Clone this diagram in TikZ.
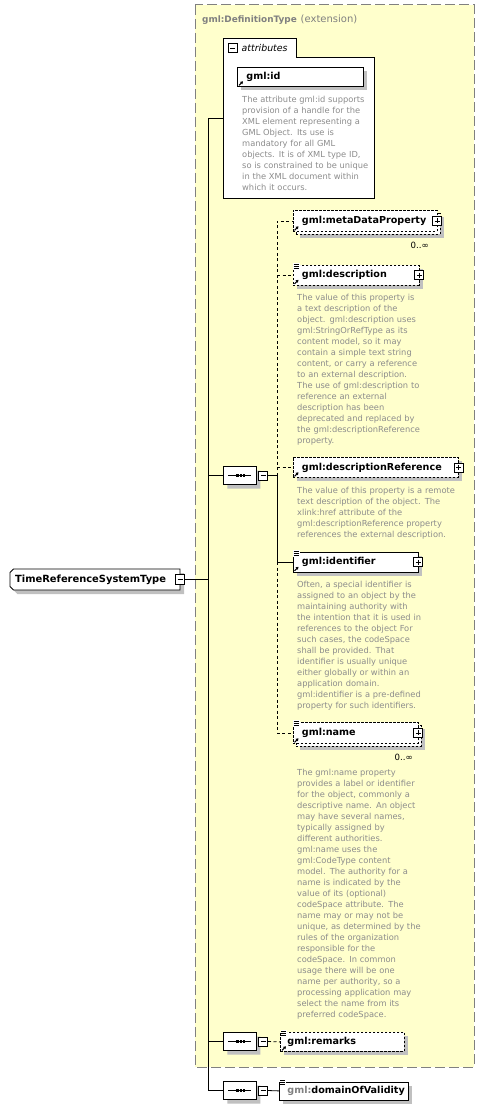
\documentclass[tikz,border=0pt]{standalone}
\usepackage{fontspec}
\setmainfont{DejaVu Sans}
\usetikzlibrary{shapes.misc,shadows,arrows.meta}
\definecolor{bgyellow}{HTML}{FFFFCC}
\definecolor{framegray}{HTML}{808080}
\definecolor{descgray}{HTML}{8C8C8C}
\definecolor{shadowgray}{HTML}{C0C0C0}
\tikzset{
  shad/.style={drop shadow={shadow xshift=4pt,shadow yshift=-4pt,fill=shadowgray,opacity=1}},
  dashbox/.style={dash pattern=on 2.5pt off 1.5pt},
  box/.style={rectangle,draw=black,line width=0.8pt,fill=white,inner xsep=9pt,inner ysep=0pt,
    align=left,font=\fontsize{9.6}{11}\selectfont\bfseries,anchor=north west},
  elem/.style={box,shad},
  optelem/.style={box,shad,dashbox},
  optfront/.style={box,dashbox},
  optback/.style={rectangle,draw=black,line width=0.8pt,fill=white,dashbox,inner sep=0pt,anchor=north west,shad},
  rootshape/.style={draw=black,line width=0.8pt,fill=white,shad},
  roottext/.style={anchor=west,inner sep=0pt,font=\fontsize{9.9}{11}\selectfont\bfseries},
  seqbox/.style={chamfered rectangle,chamfered rectangle xsep=4pt,draw=black,line width=0.8pt,fill=white,
    minimum width=33pt,minimum height=18pt,inner sep=0pt,anchor=west,shad,
    path picture={
      \draw[black,line width=0.9pt] ([xshift=5pt]path picture bounding box.west) -- ([xshift=-5pt]path picture bounding box.east);
      \foreach \dx in {-2.6pt,0.8pt,4.2pt}{\fill[black] ([xshift=\dx]path picture bounding box.center) +(-1.2pt,-1.2pt) rectangle +(1.2pt,1.2pt);}
    }},
  pm/.style={rectangle,draw=black,line width=0.7pt,fill=white,minimum width=9pt,minimum height=9pt,inner sep=0pt},
  plusbox/.style={pm,path picture={
      \draw[black,line width=0.7pt] ([xshift=2pt]path picture bounding box.west) -- ([xshift=-2pt]path picture bounding box.east)
        ([yshift=-2pt]path picture bounding box.north) -- ([yshift=2pt]path picture bounding box.south);}},
  minusbox/.style={pm,path picture={
      \draw[black,line width=0.7pt] ([xshift=2pt]path picture bounding box.west) -- ([xshift=-2pt]path picture bounding box.east);}},
  desc/.style={anchor=north west,inner sep=0pt,text=descgray,font=\fontsize{8.3}{11}\selectfont,align=left,text width=220pt},
  mult/.style={inner sep=0pt,font=\fontsize{8.6}{10}\selectfont,text=black},
  conn/.style={draw=black,line width=0.8pt},
  optconn/.style={conn,dash pattern=on 3pt off 2.5pt},
  refarrow/.style={line width=1.1pt,-{Triangle[length=2.6pt,width=3.2pt]}},
}
\newcommand\refmark[1]{\draw[refarrow] ([shift={(2pt,1.5pt)}]#1.south west) -- ++(4pt,4pt);}
\newcommand\docmark[1]{%
  \fill[white] ([shift={(0.6pt,2pt)}]#1.north west) rectangle ++(6.4pt,-6.5pt);
  \foreach \dy in {1pt,-1pt,-3pt}{\draw[line width=0.7pt] ([shift={(1.2pt,\dy)}]#1.north west) -- ++(5pt,0pt);}}
\begin{document}
\begin{tikzpicture}[x=1pt,y=-1pt]
\useasboundingbox (0,0) rectangle (485,1110);
\fill[white] (0,0) rectangle (485,1110);
% extension frame
\draw[fill=bgyellow,draw=framegray,line width=1pt,dash pattern=on 10pt off 4pt] (195,5) rectangle (474,1067);
\node[anchor=base west,inner sep=0pt,text=framegray,font=\fontsize{8.9}{10}\selectfont\bfseries] (title) at (202,22.5) {gml:DefinitionType};
\node[anchor=base west,inner sep=0pt,text=framegray,font=\fontsize{10}{11}\selectfont] (ext) at ([xshift=3.5pt]title.base east) {(extension)};
% attributes group
\draw[fill=white,line width=0.8pt] (223,198) -- (223,38) -- (296,38) -- (296,57) -- (374,57) -- (374,198) -- cycle;
\node[minusbox] (attrm) at (232.5,48) {};
\node[anchor=west,inner sep=0pt,font=\fontsize{9.4}{10}\selectfont\itshape] (attrlabel) at (241.5,48) {attributes};
\coordinate (attrin) at (223,118);
\node[elem,text width=108pt,minimum height=19pt] (gmlid) at (237,67) {gml:id};
\refmark{gmlid}
\node[desc] (iddesc) at (242,95.7) {The attribute gml:id supports\\provision of a handle for the\\XML element representing a\\GML Object. Its use is\\mandatory for all GML\\objects. It is of XML type ID,\\so is constrained to be unique\\in the XML document within\\which it occurs.};
% trunk
\coordinate (j0) at (208.5,118);
\coordinate (j1) at (208.5,475.5);
\coordinate (jr) at (208.5,579.5);
\coordinate (j2) at (208.5,1041.5);
\coordinate (j3) at (208.5,1090.5);
\draw[conn] (attrin) -- (j0) -- (j3);
% root
\draw[rootshape] (13.5,569) -- (180,569) -- (180,590) -- (13.5,590) -- (10,586.5) -- (10,572.5) -- cycle;
\node[roottext] (root) at (15,579.5) {TimeReferenceSystemType};
\node[minusbox,minimum height=10pt] (rootm) at (180,579.5) {};
\draw[conn] (rootm.east) -- (jr);
% sequence 1
\node[seqbox] (seq1) at (223,475.5) {};
\node[minusbox,anchor=west] (seq1m) at ([xshift=1.5pt]seq1.east) {};
\coordinate (v1) at (277,475.5);
\draw[conn] (j1) -- (seq1.west);
\draw[conn] (seq1m.east) -- (v1);
% metaDataProperty
\node[optback,minimum width=144pt,minimum height=21pt] (mdpb) at (295.5,213) {};
\node[optfront,text width=126pt,minimum height=21pt] (mdp) at (292.5,210) {gml:metaDataProperty};
\refmark{mdp}
\node[plusbox] (mdpp) at (mdp.east) {};
\node[mult,anchor=east] (mdpmult) at (429,245.5) {0..∞};
% description
\node[optelem,text width=108pt,minimum height=19.5pt] (descr) at (292.5,265) {gml:description};
\docmark{descr}\refmark{descr}
\node[plusbox] (descrp) at (descr.east) {};
\node[desc] (descrtxt) at (297,293.7) {The value of this property is\\a text description of the\\object. gml:description uses\\gml:StringOrRefType as its\\content model, so it may\\contain a simple text string\\content, or carry a reference\\to an external description.\\The use of gml:description to\\reference an external\\description has been\\deprecated and replaced by\\the gml:descriptionReference\\property.};
% descriptionReference
\node[optelem,text width=147.5pt,minimum height=20pt] (dref) at (292.5,457) {gml:descriptionReference};
\refmark{dref}
\node[plusbox] (drefp) at (dref.east) {};
\node[desc] (dreftxt) at (297,486.7) {The value of this property is a remote\\text description of the object. The\\xlink:href attribute of the\\gml:descriptionReference property\\references the external description.};
% identifier
\node[elem,text width=107pt,minimum height=19.5pt] (ident) at (292.5,552) {gml:identifier};
\docmark{ident}\refmark{ident}
\node[plusbox] (identp) at (ident.east) {};
\node[desc] (identtxt) at (297,580.7) {Often, a special identifier is\\assigned to an object by the\\maintaining authority with\\the intention that it is used in\\references to the object For\\such cases, the codeSpace\\shall be provided. That\\identifier is usually unique\\either globally or within an\\application domain.\\gml:identifier is a pre-defined\\property for such identifiers.};
% name
\node[optback,minimum width=125pt,minimum height=21pt] (nameb) at (295.5,725) {};
\node[optfront,text width=107pt,minimum height=21pt] (gname) at (292.5,722) {gml:name};
\docmark{gname}\refmark{gname}
\node[plusbox] (gnamep) at (gname.east) {};
\node[mult,anchor=east] (namemult) at (413,757) {0..∞};
\node[desc] (nametxt) at (297,768.7) {The gml:name property\\provides a label or identifier\\for the object, commonly a\\descriptive name.  An object\\may have several names,\\typically assigned by\\different authorities.\\gml:name uses the\\gml:CodeType content\\model.  The authority for a\\name is indicated by the\\value of its (optional)\\codeSpace attribute.  The\\name may or may not be\\unique, as determined by the\\rules of the organization\\responsible for the\\codeSpace.  In common\\usage there will be one\\name per authority, so a\\processing application may\\select the name from its\\preferred codeSpace.};
% connectors of sequence 1
\draw[optconn] (v1) -- (v1 |- mdp.west) -- (mdp.west);
\draw[optconn] (v1 |- descr.west) -- (descr.west);
\draw[optconn] (v1 |- dref.west) -- (dref.west);
\draw[conn] (v1) -- (v1 |- ident.west) -- (ident.west);
\draw[optconn] (v1 |- ident.west) -- (v1 |- gname.west) -- (gname.west);
% sequence 2: remarks
\node[seqbox] (seq2) at (223,1041.5) {};
\node[minusbox,anchor=west] (seq2m) at ([xshift=1.5pt]seq2.east) {};
\node[optelem,inner xsep=7pt,text width=110pt,minimum height=19pt] (remarks) at (280,1032) {gml:remarks};
\docmark{remarks}\refmark{remarks}
\draw[conn] (j2) -- (seq2.west);
\draw[optconn] (seq2m.east) -- (remarks.west);
% sequence 3: domainOfValidity
\node[seqbox] (seq3) at (223,1090.5) {};
\node[minusbox,anchor=west] (seq3m) at ([xshift=1.5pt]seq3.east) {};
\node[elem,inner xsep=8pt,text width=113pt,minimum height=18pt] (dov) at (279,1081.5) {\textcolor{framegray}{gml:}domainOfValidity};
\docmark{dov}
\draw[conn] (j3) -- (seq3.west);
\draw[conn] (seq3m.east) -- (dov.west);
\end{tikzpicture}
\end{document}
